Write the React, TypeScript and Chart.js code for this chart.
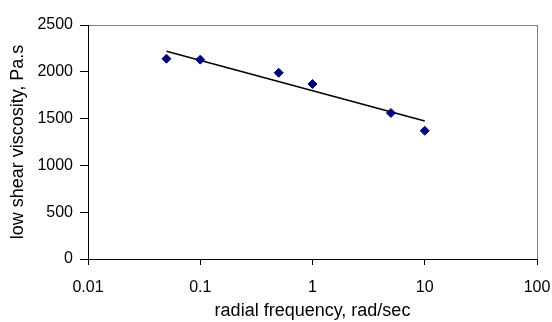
import { useEffect, useRef } from "react";
import { Chart, registerables } from "chart.js";

Chart.register(...registerables);

// Measured low-shear viscosity at each radial frequency
const frequency = [0.05, 0.1, 0.5, 1, 5, 10];
const viscosity = [2140, 2130, 1990, 1870, 1560, 1370];

// Logarithmic trend line end points
const trendFrequency = [0.05, 10];
const trendViscosity = [2220, 1475];

// Axis ticks
const xTicks = [0.01, 0.1, 1, 10, 100];
const yMin = 0;
const yMax = 2500;
const yStep = 500;

const FONT_FAMILY = '"Liberation Sans", Arial, sans-serif';

export default function App() {
  const canvasRef = useRef<HTMLCanvasElement | null>(null);

  useEffect(() => {
    const canvas = canvasRef.current;
    if (!canvas) return;

    const tickFont = { family: FONT_FAMILY, size: 16 };
    const titleFont = { family: FONT_FAMILY, size: 18 };

    const chart = new Chart(canvas, {
      type: "scatter",
      data: {
        datasets: [
          {
            label: "viscosity",
            data: frequency.map((f, i) => ({ x: f, y: viscosity[i] })),
            backgroundColor: "#000080",
            borderColor: "#000080",
            pointStyle: "rectRot",
            pointRadius: 4.5,
            pointBorderWidth: 1,
            showLine: false,
          },
          {
            label: "trend",
            data: trendFrequency.map((f, i) => ({ x: f, y: trendViscosity[i] })),
            borderColor: "#000000",
            borderWidth: 1.5,
            pointRadius: 0,
            showLine: true,
            fill: false,
          },
        ],
      },
      options: {
        animation: false,
        responsive: false,
        maintainAspectRatio: false,
        layout: { padding: { top: 25, right: 15, left: 0, bottom: 0 } },
        plugins: {
          legend: { display: false },
          tooltip: { enabled: false },
        },
        scales: {
          x: {
            type: "logarithmic",
            min: xTicks[0],
            max: xTicks[xTicks.length - 1],
            afterBuildTicks: (scale: any) => {
              scale.ticks = xTicks.map((v) => ({ value: v }));
            },
            afterFit: (scale: any) => {
              scale.height = 63;
              scale.paddingLeft = 0;
              scale.paddingRight = 0;
            },
            ticks: {
              autoSkip: false,
              maxRotation: 0,
              color: "#000",
              font: tickFont,
              padding: 13,
              callback: (v: any) => String(Number(v)),
            },
            grid: {
              color: (ctx: any) =>
                ctx.tick && ctx.tick.value === xTicks[xTicks.length - 1]
                  ? "#808080"
                  : "rgba(0,0,0,0)",
              tickColor: "#000",
              tickLength: 6,
              lineWidth: 1,
            },
            border: { display: true, color: "#000", width: 1 },
            title: {
              display: true,
              text: "radial frequency, rad/sec",
              color: "#000",
              font: titleFont,
              padding: { top: 4, bottom: 0 },
            },
          },
          y: {
            type: "linear",
            min: yMin,
            max: yMax,
            afterFit: (scale: any) => {
              scale.width = 88;
            },
            ticks: {
              stepSize: yStep,
              color: "#000",
              font: tickFont,
              padding: 7,
              callback: (v: any) => String(Number(v)),
            },
            grid: {
              color: (ctx: any) =>
                ctx.tick && ctx.tick.value === yMax ? "#808080" : "rgba(0,0,0,0)",
              tickColor: "#000",
              tickLength: 8,
              lineWidth: 1,
            },
            border: { display: true, color: "#000", width: 1 },
            title: {
              display: true,
              text: "low shear viscosity, Pa.s",
              color: "#000",
              font: titleFont,
              padding: { top: 7, bottom: 0 },
            },
          },
        },
      },
    } as any);

    return () => chart.destroy();
  }, []);

  return (
    <div
      style={{
        position: "absolute",
        left: 0,
        top: 0,
        width: 552,
        height: 322,
        background: "#fff",
      }}
    >
      <canvas ref={canvasRef} width={552} height={322} />
    </div>
  );
}
